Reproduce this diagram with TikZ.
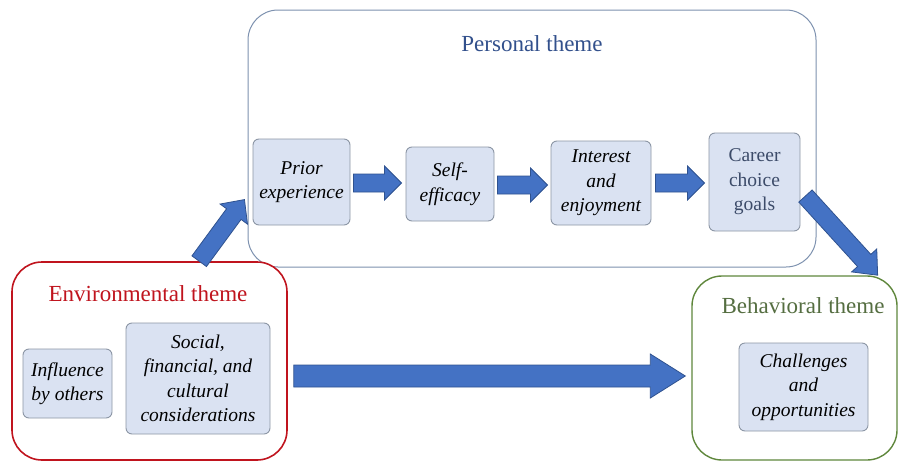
\documentclass[tikz,border=0pt]{standalone}
\usepackage{fontspec}
\setmainfont{Liberation Serif}
\usetikzlibrary{calc}

\definecolor{arrowfill}{RGB}{68,114,196}
\definecolor{arrowedge}{RGB}{47,82,143}
\definecolor{innerfill}{RGB}{218,226,242}
\definecolor{inneredge}{RGB}{140,150,165}
\definecolor{persedge}{RGB}{125,145,175}
\definecolor{perstext}{RGB}{50,80,140}
\definecolor{envred}{RGB}{192,20,30}
\definecolor{behgreen}{RGB}{95,135,60}
\definecolor{behtext}{RGB}{85,110,65}
\definecolor{goaltext}{RGB}{60,75,105}

\tikzset{
  themebox/.style={rectangle, rounded corners=30pt, fill=white, inner sep=0pt},
  innerbox/.style={rectangle, rounded corners=6pt, draw=inneredge, fill=innerfill,
    line width=0.9pt, inner sep=0pt, align=center,
    font=\fontsize{19.5}{24.5}\selectfont\itshape},
  titletext/.style={font=\fontsize{23}{27}\selectfont, inner sep=0pt},
  blockarrow/.style={fill=arrowfill, draw=arrowedge, line width=0.8pt, line join=miter},
}

% block arrow: start, end, half shaft width, half head width, head length
\newcommand\blockarrow[5]{%
  \filldraw[blockarrow] let \p1=#1, \p2=#2,
    \n1={atan2(\y2-\y1,\x2-\x1)}, \n2={veclen(\x2-\x1,\y2-\y1)} in
    [shift={(\p1)}, rotate=\n1]
    (0pt,-#3) -- ({\n2-#5},-#3) -- ({\n2-#5},-#4) -- ({\n2},0pt)
    -- ({\n2-#5},#4) -- ({\n2-#5},#3) -- (0pt,#3) -- cycle;}

\begin{document}
\begin{tikzpicture}[x=1pt,y=-1pt]
\useasboundingbox (0,0) rectangle (901,463);

% theme containers
\node[themebox, draw=persedge, line width=1pt, minimum width=568pt, minimum height=257pt]
  (personal) at (532,138.5) {};
\node[themebox, draw=envred, line width=1.6pt, minimum width=275pt, minimum height=198pt]
  (env) at (149.5,361) {};
\node[themebox, draw=behgreen, line width=1.4pt, minimum width=205pt, minimum height=184pt]
  (behav) at (794.5,368) {};

\node[titletext, text=perstext] (perstitle) at (532,44) {Personal theme};
\node[titletext, text=envred] (envtitle) at (148,294) {Environmental theme};
\node[titletext, text=behtext] (behtitle) at (803,306) {Behavioral theme};

% personal theme steps
\node[innerbox, minimum width=97pt, minimum height=86pt] (prior) at (301.5,182)
  {Prior\\experience};
\node[innerbox, minimum width=88pt, minimum height=74pt] (self) at (450,184)
  {Self-\\efficacy};
\node[innerbox, minimum width=100pt, minimum height=84pt] (interest) at (601,183)
  {Interest\\and\\enjoyment};
\node[innerbox, minimum width=91pt, minimum height=98pt, text=goaltext,
  font=\fontsize{19.5}{24.5}\selectfont\upshape] (career) at (754.5,182)
  {Career\\choice\\goals};

% environmental factors
\node[innerbox, minimum width=89pt, minimum height=69pt] (influence) at (67.5,383.5)
  {Influence\\by others};
\node[innerbox, minimum width=144pt, minimum height=111pt] (social) at (198,378.5)
  {Social,\\financial, and\\cultural\\considerations};

% behavioral outcome
\node[innerbox, minimum width=129pt, minimum height=88pt] (challenges) at (803.5,387)
  {Challenges\\and\\opportunities};

% connectors
\coordinate (envout) at ($(env.north west)+(188,0)$);
\coordinate (priorin) at ($(prior.south west)+(-8,-26)$);
\blockarrow{(envout)}{(priorin)}{9pt}{17pt}{18pt}

\blockarrow{($(prior.east)+(3,1)$)}{($(self.west |- prior.east)+(-4,1)$)}{9pt}{17pt}{17pt}
\blockarrow{($(self.east)+(3,1)$)}{($(interest.west |- self.east)+(-3,1)$)}{9pt}{17pt}{17pt}
\blockarrow{($(interest.east)+(4,0)$)}{($(career.west |- interest.east)+(-4,0)$)}{9pt}{17pt}{17pt}

\coordinate (careerout) at ($(career.east)+(5,14)$);
\coordinate (behavin) at ($(behav.north east)+(-20,0)$);
\blockarrow{(careerout)}{(behavin)}{9pt}{17pt}{20pt}

\blockarrow{($(env.east)+(6,15)$)}{($(behav.west |- env.east)+(-6,15)$)}{11pt}{22pt}{35pt}
\end{tikzpicture}
\end{document}
